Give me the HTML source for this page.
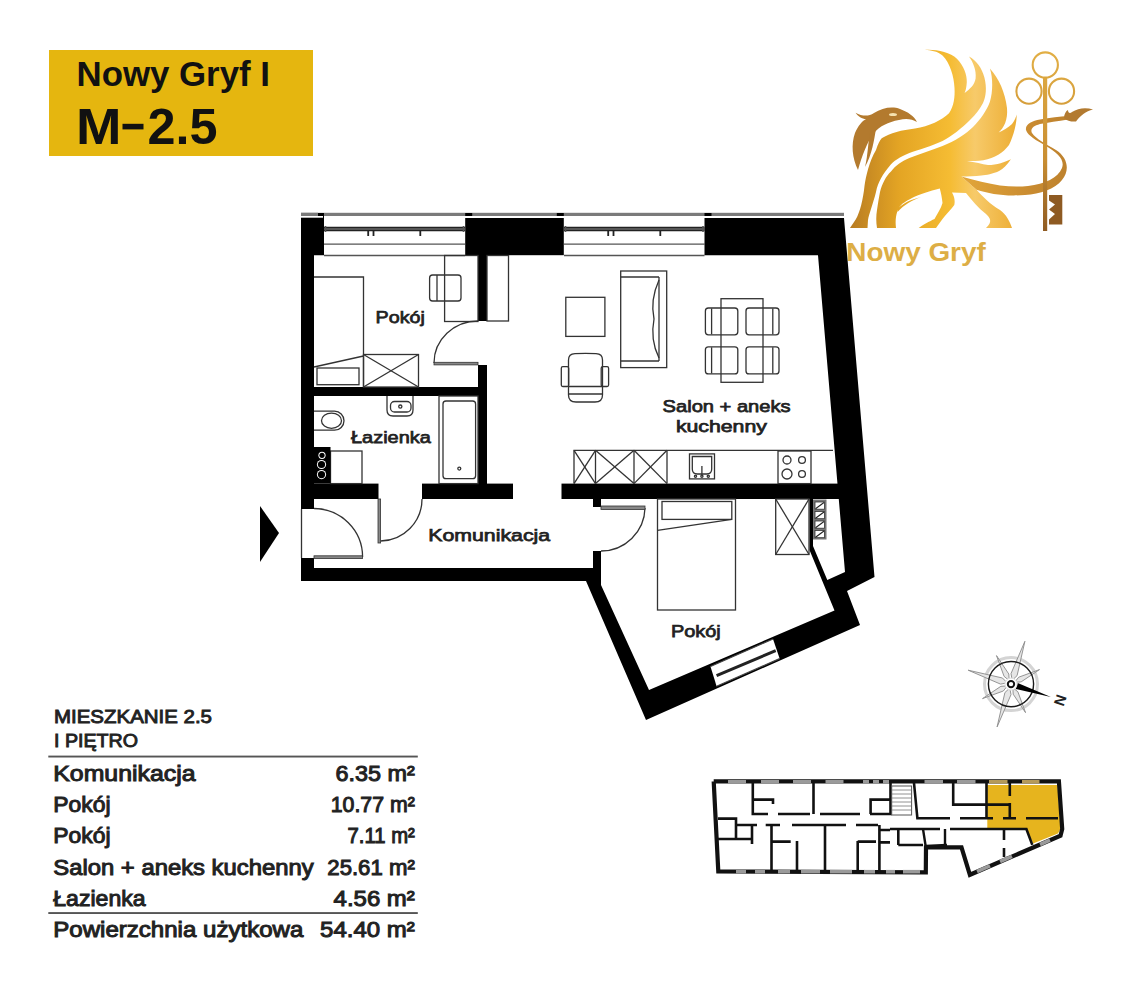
<!DOCTYPE html>
<html><head><meta charset="utf-8">
<style>
html,body{margin:0;padding:0;background:#fff;width:1142px;height:999px;overflow:hidden}
svg{display:block;font-family:"Liberation Sans",sans-serif}
</style></head><body>
<svg width="1142" height="999" viewBox="0 0 1142 999">
<!-- header -->
<rect x="49" y="50" width="264" height="106" fill="#E5B60F"/>
<text x="76.5" y="86.2" font-size="34.5" font-weight="bold" fill="#111" textLength="193.5" lengthAdjust="spacingAndGlyphs">Nowy Gryf I</text>
<text x="76" y="143.8" font-size="50" font-weight="bold" fill="#111" textLength="45.5" lengthAdjust="spacingAndGlyphs">M</text>
<rect x="122.5" y="123.8" width="21" height="5.6" fill="#111"/>
<text x="147.5" y="143.8" font-size="50" font-weight="bold" fill="#111" textLength="70" lengthAdjust="spacingAndGlyphs">2.5</text>

<!-- FLOOR PLAN -->
<g id="plan">
<!-- top strip -->
<rect x="301" y="212.8" width="543" height="3.2" fill="#7a7a7a"/>
<!-- windows -->
<g id="win1" stroke="#222" fill="none">
 <line x1="324" y1="229" x2="465" y2="229" stroke-width="4.6"/>
 <line x1="324" y1="229" x2="465" y2="229" stroke-width="0.9" stroke="#999"/>
 <line x1="324" y1="244.2" x2="465" y2="244.2" stroke-width="1.3" stroke="#555"/>
 <line x1="324" y1="255.5" x2="465" y2="255.5" stroke-width="1.3" stroke="#555"/>
</g>
<g id="win2" stroke="#222" fill="none">
 <line x1="564" y1="229" x2="704.5" y2="229" stroke-width="4.6"/>
 <line x1="564" y1="229" x2="704.5" y2="229" stroke-width="0.9" stroke="#999"/>
 <line x1="564" y1="244.2" x2="704.5" y2="244.2" stroke-width="1.3" stroke="#555"/>
 <line x1="564" y1="255.5" x2="704.5" y2="255.5" stroke-width="1.3" stroke="#555"/>
</g>
<g id="hooks"><rect x="367.3" y="230.5" width="1.8" height="5.5" fill="#222"/><rect x="372.6" y="230.5" width="1.8" height="5.5" fill="#222"/><rect x="419.40000000000003" y="230.5" width="1.8" height="5.5" fill="#222"/><rect x="607.3000000000001" y="230.5" width="1.8" height="5.5" fill="#222"/><rect x="612.6" y="230.5" width="1.8" height="5.5" fill="#222"/><rect x="659.4" y="230.5" width="1.8" height="5.5" fill="#222"/><rect x="324.7" y="226" width="1.6" height="6" fill="#555"/><rect x="462.7" y="226" width="1.6" height="6" fill="#555"/><rect x="564.7" y="226" width="1.6" height="6" fill="#555"/><rect x="702.2" y="226" width="1.6" height="6" fill="#555"/></g>
<!-- walls -->
<g fill="#000">
 <polygon points="301,213 324,213 324,255.3 314,255.3 314,509 301,509"/>
 <rect x="301" y="558" width="13" height="23"/>
 <rect x="301" y="568" width="300" height="13"/>
 <rect x="465.2" y="218" width="98.6" height="37.2"/>
 <rect x="465.2" y="213" width="7" height="3"/>
 <rect x="556.8" y="213" width="7" height="3"/>
 <polygon points="704.5,218 844,218 874.5,577 847,591 860,625 646,720 586,581 586,575 601,575 601,585 649,690 834.5,610.5 809.5,550 809.5,499 813,499 813,546 827.3,580 845,572 818,255.2 704.5,255.2"/>
 <rect x="704.5" y="213" width="7" height="3"/>
 <!-- interior walls -->
 <rect x="314" y="387" width="173" height="9"/>
 <rect x="478" y="255" width="9" height="66"/>
 <rect x="478" y="365" width="9" height="119"/>
 <rect x="314" y="483.6" width="64.5" height="15.4"/>
 <rect x="422" y="483.6" width="91" height="15.4"/>
 <rect x="561.5" y="483.6" width="280" height="15.4"/>
 <rect x="593" y="499" width="8" height="8"/>
 <rect x="593" y="551" width="8" height="30"/>
</g>
<rect x="301" y="212.8" width="17" height="3.2" fill="#7a7a7a"/>
<rect x="301" y="216" width="22" height="1.7" fill="#fff"/>
<rect x="472.2" y="216" width="84.6" height="1.8" fill="#fff"/>
<rect x="711.5" y="216" width="132" height="1.8" fill="#fff"/>
<!-- window 3 in slanted wall -->
<polygon points="710.5,666.5 773,639 779.6,658.6 716.6,686.2" fill="#fff"/>
<line x1="716.6" y1="675.7" x2="775.7" y2="650.7" stroke="#222" stroke-width="3"/>
<line x1="710.5" y1="666.5" x2="773" y2="639" stroke="#444" stroke-width="1.2"/>
<line x1="716.6" y1="686.2" x2="779.6" y2="658.6" stroke="#444" stroke-width="1.2"/>

<!-- furniture -->
<g fill="none" stroke="#333" stroke-width="1.3">
 <!-- pokoj1 bed -->
 <polyline points="314,277 363.5,277 363.5,387"/>
 <rect x="317" y="368" width="42" height="16.7"/>
 <line x1="314" y1="367" x2="363.5" y2="356"/>
 <rect x="363.5" y="354.5" width="55" height="32.5"/>
 <line x1="363.5" y1="354.5" x2="418.5" y2="387"/>
 <line x1="418.5" y1="354.5" x2="363.5" y2="387"/>
 <rect x="444.6" y="255.5" width="33.4" height="66"/>
 <rect x="429.6" y="275" width="31.4" height="26" rx="3"/>
 <line x1="437" y1="275" x2="437" y2="301"/>
 <rect x="487" y="255.5" width="21.5" height="65.5"/>
 <!-- door 1 -->
 <path d="M434,363 A44,42 0 0 1 478,321"/>
 <!-- living -->
 <rect x="565.8" y="297.3" width="39.1" height="39.1"/>
 <rect x="620.7" y="271" width="46" height="96.6"/>
 <line x1="620.7" y1="277" x2="659" y2="277"/>
 <line x1="620.7" y1="361" x2="659" y2="361"/>
 <line x1="659" y1="277" x2="659" y2="361"/>
 <path d="M659,280 Q650,300 654,319 Q650,340 659,358"/>
 <path d="M568.5,386.5 V360 Q568.5,353.8 575,353.6 Q585.5,353.2 596,353.6 Q602.5,353.8 602.5,360 V386.5"/>
 <rect x="561.3" y="366.7" width="7.4" height="19.8" rx="1.5"/>
 <rect x="601.2" y="366.7" width="7.4" height="19.8" rx="1.5"/>
 <line x1="568.5" y1="386.5" x2="602.5" y2="386.5"/>
 <line x1="568.5" y1="394" x2="602.5" y2="394"/>
 <path d="M568.5,386.5 V395 Q568.5,402 576,402 H595 Q602.5,402 602.5,395 V386.5"/>
 <rect x="721" y="298.7" width="42" height="83.6"/>
 <rect x="705.4" y="308" width="32.4" height="26.8" rx="3"/>
 <rect x="746" y="308" width="33" height="26.8" rx="3"/>
 <rect x="705.4" y="346.8" width="32.4" height="27.1" rx="3"/>
 <rect x="746" y="346.8" width="33" height="27.1" rx="3"/>
 <line x1="711.6" y1="308.5" x2="711.6" y2="334.3"/><line x1="711.6" y1="347.3" x2="711.6" y2="373.4"/>
 <line x1="772.8" y1="308.5" x2="772.8" y2="334.3"/><line x1="772.8" y1="347.3" x2="772.8" y2="373.4"/>
 <!-- kitchen -->
 <polyline points="574,483.6 574,450.3 833,450.3"/>
 <line x1="595.5" y1="450.3" x2="595.5" y2="483.6"/>
 <line x1="634" y1="450.3" x2="634" y2="483.6"/>
 <line x1="667" y1="450.3" x2="667" y2="483.6"/>
 <line x1="574" y1="450.3" x2="595.5" y2="483.6"/><line x1="595.5" y1="450.3" x2="574" y2="483.6"/>
 <line x1="595.5" y1="450.3" x2="634" y2="483.6"/><line x1="634" y1="450.3" x2="595.5" y2="483.6"/>
 <line x1="634" y1="450.3" x2="667" y2="483.6"/><line x1="667" y1="450.3" x2="634" y2="483.6"/>
 <rect x="689.5" y="453.9" width="25" height="25"/>
 <path d="M692.3,456.5 H711.7 V469 Q711.7,474 706.7,474 H697.3 Q692.3,474 692.3,469 Z"/>
 <circle cx="695.5" cy="476.2" r="1.1"/><circle cx="701.9" cy="476.2" r="1.1"/><circle cx="708.3" cy="476.2" r="1.1"/>
 <line x1="701.9" y1="466" x2="701.9" y2="475"/>
 <rect x="778" y="451" width="33" height="32.6"/>
 <circle cx="787" cy="460" r="4"/><circle cx="802" cy="460" r="3.4"/>
 <circle cx="787" cy="474" r="5"/><circle cx="802" cy="474" r="3.4"/>
 <!-- bathroom -->
 <rect x="439" y="396" width="39" height="87.6"/>
 <rect x="443" y="401" width="32.6" height="77.7" rx="3"/>
 <path d="M387,396 L387,410 Q387,416 393,416 L407,416 Q413,416 413,410 L413,396"/>
 <path d="M314,411.2 H334.5 A9.5,9.5 0 0 1 334.5,430.2 H314"/>
 <ellipse cx="331.5" cy="420.7" rx="10" ry="7.6"/>
 <rect x="390.5" y="401.5" width="20.5" height="10.5" rx="4"/>
 <circle cx="400.3" cy="406.6" r="1.6"/>
 <circle cx="459.3" cy="468.6" r="1.5"/>
 <rect x="330.5" y="451" width="31.5" height="32.6"/>
 <!-- doors -->
 <path d="M380.6,541 A42,42 0 0 0 422,499"/>
 <path d="M314,508.5 A48.6,48.6 0 0 1 362.6,557"/>
 <line x1="301.5" y1="509" x2="301.5" y2="558"/>
 <path d="M645,508 A44,44 0 0 1 601,551"/>
 <!-- pokoj 2 -->
 <rect x="657.5" y="499" width="78" height="111"/>
 <rect x="662" y="501.5" width="69.8" height="17.9"/>
 <line x1="657.5" y1="530.4" x2="731.8" y2="519.4"/>
 <rect x="775.7" y="499" width="33.3" height="55.5"/>
 <line x1="775.7" y1="499" x2="809" y2="554.5"/><line x1="809" y1="499" x2="775.7" y2="554.5"/>
</g>
<!-- door leaves -->
<g fill="#888" stroke="#333" stroke-width="0.8">
 <rect x="434" y="362.3" width="44" height="2.6"/>
 <rect x="314" y="555.8" width="48.6" height="2.8"/>
 <rect x="601" y="506" width="44" height="3.5"/>
 <rect x="378" y="499" width="2.6" height="44"/>
</g>
<!-- washing/boiler -->
<rect x="314" y="447" width="16.5" height="36.6" fill="#000"/>
<circle cx="322" cy="455.3" r="3.6" fill="#fff"/><circle cx="322" cy="455.3" r="2.6" fill="#000"/>
<circle cx="321.5" cy="464.5" r="4.6" fill="#fff"/><circle cx="321.5" cy="464.5" r="3.6" fill="#000"/>
<circle cx="321.5" cy="474.6" r="4.6" fill="#fff"/><circle cx="321.5" cy="474.6" r="3.6" fill="#000"/>
<!-- vents -->
<rect x="813" y="499.5" width="13.5" height="40" fill="#777"/>
<g fill="#fff" stroke="#333" stroke-width="0.8">
 <rect x="815" y="502" width="9.5" height="7.2"/>
 <rect x="815" y="511.5" width="9.5" height="7.2"/>
 <rect x="815" y="521" width="9.5" height="7.2"/>
 <rect x="815" y="530.5" width="9.5" height="7.2"/>
</g>
<g stroke="#222" stroke-width="1.1">
 <line x1="815.5" y1="508.7" x2="824" y2="502.5"/>
 <line x1="815.5" y1="518.2" x2="824" y2="512"/>
 <line x1="815.5" y1="527.7" x2="824" y2="521.5"/>
 <line x1="815.5" y1="537.2" x2="824" y2="531"/>
</g>

<!-- labels -->
<g font-weight="normal" fill="#222" stroke="#222" stroke-width="0.75" font-size="17.3">
 <text x="375.6" y="323.4" textLength="49.2" lengthAdjust="spacingAndGlyphs">Pokój</text>
 <text x="351" y="442.8" textLength="79.8" lengthAdjust="spacingAndGlyphs">Łazienka</text>
 <text x="428.3" y="541.4" textLength="121.8" lengthAdjust="spacingAndGlyphs">Komunikacja</text>
 <text x="662.6" y="412.4" textLength="128" lengthAdjust="spacingAndGlyphs">Salon + aneks</text>
 <text x="675.9" y="431.8" textLength="91" lengthAdjust="spacingAndGlyphs">kuchenny</text>
 <text x="671" y="636.8" textLength="49.8" lengthAdjust="spacingAndGlyphs">Pokój</text>
</g>
<!-- entry arrow -->
<polygon points="260,506 279,533 260,562" fill="#000"/>
</g>

<!-- TABLE -->
<g font-weight="bold" fill="#222">
 <text x="54" y="722.9" font-size="18.5" font-weight="normal" stroke="#222" stroke-width="0.9" textLength="158" lengthAdjust="spacingAndGlyphs">MIESZKANIE 2.5</text>
 <text x="54" y="747.3" font-size="18.5" font-weight="normal" stroke="#222" stroke-width="0.9" textLength="84" lengthAdjust="spacingAndGlyphs">I PIĘTRO</text>
 <rect x="48.3" y="755.6" width="369.5" height="1.9" fill="#555"/>
 <rect x="48.3" y="912.1" width="369.5" height="1.9" fill="#555"/>
 <g font-size="22" font-weight="normal" stroke="#222" stroke-width="1.0">
 <text x="53.3" y="780.8" textLength="142.2" lengthAdjust="spacingAndGlyphs">Komunikacja</text>
 <text x="53.3" y="812" textLength="57.3" lengthAdjust="spacingAndGlyphs">Pokój</text>
 <text x="53.3" y="843" textLength="57.3" lengthAdjust="spacingAndGlyphs">Pokój</text>
 <text x="53.3" y="874.5" textLength="260.3" lengthAdjust="spacingAndGlyphs">Salon + aneks kuchenny</text>
 <text x="53.3" y="905.7" textLength="92.3" lengthAdjust="spacingAndGlyphs">Łazienka</text>
 <text x="53.3" y="937.1" textLength="250" lengthAdjust="spacingAndGlyphs">Powierzchnia użytkowa</text>
 <text x="335.5" y="780.8" textLength="79.3" lengthAdjust="spacingAndGlyphs">6.35 m²</text>
 <text x="330.7" y="812" textLength="84.1" lengthAdjust="spacingAndGlyphs">10.77 m²</text>
 <text x="347.5" y="843" textLength="67.3" lengthAdjust="spacingAndGlyphs">7.11 m²</text>
 <text x="327.3" y="874.5" textLength="87.5" lengthAdjust="spacingAndGlyphs">25.61 m²</text>
 <text x="333.6" y="905.7" textLength="81.2" lengthAdjust="spacingAndGlyphs">4.56 m²</text>
 <text x="320.1" y="937.1" textLength="94.7" lengthAdjust="spacingAndGlyphs">54.40 m²</text>
 </g>
</g>

<!-- LOGO placeholder -->
<g id="logo">
<defs>
 <linearGradient id="gold" x1="845" y1="0" x2="1095" y2="0" gradientUnits="userSpaceOnUse">
  <stop offset="0" stop-color="#B47822"/>
  <stop offset="0.22" stop-color="#E4A524"/>
  <stop offset="0.42" stop-color="#F5BC33"/>
  <stop offset="0.52" stop-color="#F7CA6A"/>
  <stop offset="0.68" stop-color="#EDAE35"/>
  <stop offset="0.85" stop-color="#D0922E"/>
  <stop offset="1" stop-color="#A86E28"/>
 </linearGradient>
 <linearGradient id="keyg" x1="0" y1="50" x2="0" y2="232" gradientUnits="userSpaceOnUse">
  <stop offset="0" stop-color="#E2AF45"/>
  <stop offset="0.6" stop-color="#C98E32"/>
  <stop offset="1" stop-color="#8E5A22"/>
 </linearGradient>
</defs>
<!-- silhouette -->
<path fill="url(#gold)" d="M924.9,49.9 C935,49 950,52 956.9,58.7 C964,66 967,75 966.8,82 C966.5,88 965.5,91 964.6,93
 C970,89 974.5,85 975.6,78.5 C976.5,70 973,62 969,56.5 C976,60 982,68 984.4,77.4 C987,88 986,96 983,103
 C980,109 976,114 970,120 C962,128 952,136 942.5,141 C932,146 918,150 909.4,153 C900,157 893,161 889.6,166 C883,174 878,182 876,192 C873,204 869,214 868,220 L867.5,228
 L850,228 C852,225 854,222 856,219 C860,212 863,200 864.5,186 C866,176 869,162 876,150 C878,144 880,140 881.7,138.3
 C890,133 902,130 915,128.5 C929,126.4 942,120 949,113.2 C954,106 955,97 954.5,88 C954,76 950,63 942.5,55.4 C937,51 931,50 924.9,49.9 Z"/>
<path fill="url(#gold)" d="M989.9,68.6 C999,79 1005,92 1007,108 C1008,120 1004,128 998,133 C990,137 984,138 977.6,138.5
 C990,137 1005,131 1012,124 C1015,120 1016,117 1016.6,114.5
 C1017,122 1014,135 1009,145 C1003,153 995,158 983.3,160.2 C978,161 972,161 967,161.1
 C975,162 982,164.5 988,165 C997,165 1005,162 1010.9,159.2
 C1007,165 1003,169 999.5,170.7 C993,174 986,175 981.4,175.4 C975,176 968,176.4 961.4,176.4
 L976.6,189.7 C982,196 990,204 1000,210 C1006,214 1010,222 1012,228 L986,228
 C990,224 993,220 986,214 C978,208 972,200 966,193 L952,192.5 C955,198 955,202 954.3,205 C951,210 946,214 942.5,219 L936,228 L918.7,228
 C922,225 930,221 934.5,218.9 C937,214 941,209 942.5,203 C942,198 941,193 939.8,188.5 C930,191 918,195 912,198
 C906,201 901,204 899,208 C896,213 895,220 896,228 L877,228 C876,222 876,216 877,210 C878,203 879,197 880,192
 C882,184 886,176 891,171.5 C896,165 902,161 909.4,158 C920,154 932,150 942.5,146 C955,141 966,134 973,127 C980,120 987,110 989.9,101.7 C993,92 993,78 989.9,68.6 Z"/>
<path fill="url(#gold)" d="M921,197.3 C912,199 904,203 898,208 L897.5,212 C904,205 912,200 921,197.3 Z"/>
<!-- head + mane -->
<path fill="#B37A2E" d="M855.5,112.7 C862,116 868,117 874,113 C882,108 892,106 900,109 C908,112 914,116 917,122
 C912,119 906,118 899,120 C888,122 880,126 874,133 C867,142 862,156 858,170
 C852,158 851,144 855,133 C858,126 862,121 866,119 C862,119 858,116 855.5,112.7 Z"/>
<path fill="#B37A2E" d="M876,129 C874,140 872,155 865,167 C868,155 868,142 870,133 Z"/>
<ellipse cx="893" cy="114.5" rx="4" ry="1.6" fill="#F6E2B0"/>
<!-- tail -->
<defs>
 <linearGradient id="tailg" x1="968" y1="0" x2="1095" y2="0" gradientUnits="userSpaceOnUse">
  <stop offset="0" stop-color="#E0A43A"/>
  <stop offset="0.5" stop-color="#C98B30"/>
  <stop offset="1" stop-color="#B47A2C"/>
 </linearGradient>
</defs>
<path fill="url(#tailg)" d="M961.4,176.4 C975,180 988,183.5 1000,185.5 C1010,186.8 1020,186.8 1028,186 C1045,184 1058,178 1062,168 C1065,160 1058,153 1046,146 C1036,140 1028,136 1026,130 C1025,124 1032,121 1040,119.5 C1050,117.5 1060,116.5 1068,116
 L1068,119.5 C1058,121 1048,122.5 1040,124 C1033,126 1030,129 1032,133 C1036,139 1046,144 1056,150 C1068,158 1070,170 1062,180 C1055,189 1040,194 1025,195 C1005,196.5 990,194 976.6,189.7 Z"/>
<path fill="#B27A30" d="M1064,118 C1064,114 1066,111 1068,110 C1068,113 1070,114 1072,112 C1078,108 1086,107 1093,109.5 C1086,111 1080,116 1076,121.5 C1072,122 1067,121 1064,118 Z"/>
<!-- key -->
<g fill="none" stroke="url(#keyg)" stroke-width="2.1">
 <circle cx="1045.3" cy="65" r="12.6"/>
 <circle cx="1029" cy="91.2" r="12.6"/>
 <circle cx="1061.5" cy="91.2" r="12.6"/>
</g>
<rect x="1043" y="77" width="4.2" height="154" fill="url(#keyg)"/>
<path fill="#8E5A22" d="M1049,195 H1062.3 V224.5 H1049 V219.5 L1055,214 L1049,209.5 L1055,204.5 L1049,200.5 Z"/>
<text x="846.3" y="260.6" font-size="26" font-weight="bold" fill="#DDAE45" textLength="139.4" lengthAdjust="spacingAndGlyphs">Nowy Gryf</text>
</g>
<!-- COMPASS placeholder -->
<g id="compass"><circle cx="1011" cy="684.1" r="26.5" fill="none" stroke="#d4d4d4" stroke-width="3"/>
<polygon points="1012.8,687.7 1013.2,694.2 1025.5,712.6 1017.9,691.8" fill="#e6e6e6" stroke="#8a8a8a" stroke-width="0.9"/>
<polygon points="1009.8,687.9 1004.9,692.6 997.1,726.9 1011.0,694.6" fill="#e6e6e6" stroke="#8a8a8a" stroke-width="0.9"/>
<polygon points="1007.4,685.9 1000.9,686.3 982.5,698.6 1003.3,691.0" fill="#e6e6e6" stroke="#8a8a8a" stroke-width="0.9"/>
<polygon points="1007.2,682.9 1002.5,678.0 968.2,670.2 1000.5,684.1" fill="#e6e6e6" stroke="#8a8a8a" stroke-width="0.9"/>
<polygon points="1009.2,680.5 1008.8,674.0 996.5,655.6 1004.1,676.4" fill="#e6e6e6" stroke="#8a8a8a" stroke-width="0.9"/>
<polygon points="1012.2,680.3 1017.1,675.6 1024.9,641.3 1011.0,673.6" fill="#e6e6e6" stroke="#8a8a8a" stroke-width="0.9"/>
<polygon points="1014.6,682.3 1021.1,681.9 1039.5,669.6 1018.7,677.2" fill="#e6e6e6" stroke="#8a8a8a" stroke-width="0.9"/>
<circle cx="1011" cy="684.1" r="22.6" fill="none" stroke="#1a1a1a" stroke-width="1.4"/>
<polygon points="1015.7,689.0 1050.9,697.1 1017.7,682.9" fill="#000"/>
<circle cx="1011" cy="684.1" r="6" fill="#fff" stroke="#e0e0e0" stroke-width="1"/>
<circle cx="1011" cy="684.1" r="3.2" fill="none" stroke="#111" stroke-width="2"/>
<text x="0" y="0" font-size="15" font-family="Liberation Sans" font-weight="bold" fill="#222" transform="translate(1059,700) rotate(108)" text-anchor="middle" dominant-baseline="middle">N</text></g>
<!-- MINI PLAN placeholder -->
<g id="mini">
<polygon points="987.3,785 1057.5,785 1060.5,829 1058,833.5 1033,843.5 1026.4,828.5 987.3,828.5" fill="#E6B41E"/>
<!-- outer -->
<polyline points="713.7,781.3 1058.9,781.3 1062.2,829 1060.5,835.7 969.9,874.8 961.5,847.4 926,847.4 925.8,872.3 718.3,871.5 713.7,781.3" fill="none" stroke="#111" stroke-width="4.2" stroke-linejoin="miter"/>
<g stroke="#9a9a9a" stroke-width="3.6">
 <line x1="728" y1="781.8" x2="746" y2="781.8"/>
 <line x1="761" y1="781.8" x2="779" y2="781.8"/>
 <line x1="793" y1="781.8" x2="811" y2="781.8"/>
 <line x1="825.5" y1="781.8" x2="843.5" y2="781.8"/>
 <line x1="863" y1="781.8" x2="869" y2="781.8"/>
 <line x1="873" y1="781.8" x2="879" y2="781.8"/>
 <line x1="883" y1="781.8" x2="889" y2="781.8"/>
 <line x1="924.5" y1="781.8" x2="943" y2="781.8"/>
 <line x1="957" y1="781.8" x2="975.5" y2="781.8"/>
 <line x1="989" y1="781.8" x2="1007.5" y2="781.8" stroke="#b59a5a"/>
 <line x1="1022" y1="781.8" x2="1039.5" y2="781.8" stroke="#b59a5a"/>
 <line x1="736" y1="871.7" x2="746" y2="871.7"/>
 <line x1="755" y1="871.7" x2="765" y2="871.7"/>
 <line x1="778" y1="871.7" x2="790" y2="871.7"/>
 <line x1="801" y1="871.7" x2="820" y2="871.7"/>
 <line x1="830" y1="871.7" x2="852" y2="871.7"/>
 <line x1="864" y1="871.7" x2="875" y2="871.7"/>
 <line x1="886" y1="871.7" x2="895" y2="871.7"/>
 <line x1="903" y1="871.7" x2="920" y2="871.7"/>
 <line x1="977" y1="871.5" x2="990" y2="865.8"/>
 <line x1="1000" y1="861.5" x2="1012" y2="856.3"/>
 <line x1="1040" y1="844.5" x2="1050" y2="840.2"/>
</g>
<g stroke="#111" stroke-width="2.6" fill="none">
 <path d="M752.8,783 V814 H768 M778,814 H810 M820,814 H860 M870,814 H890.5 V783"/>
 <path d="M813.5,783 V814"/>
 <path d="M752.8,799.6 H773 V804 M870.6,814 V799.6 H890.5"/>
 <rect x="891.7" y="786" width="19.9" height="29" stroke-width="1" stroke="#555"/>
 <path d="M892,790 H911 M892,794 H911 M892,798 H911 M892,802 H911 M892,806 H911 M892,810 H911" stroke-width="0.8" stroke="#777"/>
 <path d="M914,783 L917.4,818.3 H950 M960,818.3 H993 M1003,818.3 H1016 M1026,818.3 H1058"/>
 <path d="M953.2,783 V804.6 H1009.8 M986.5,783 V818 M1009.8,783 V796 M1009.8,803 V818"/>
 <path d="M736,825 H757 M765.7,825 H780 M792,825 H846 M856,825 H878 M890,829 H940 M950,829 H1026.4 L1032.3,844.9"/>
 <path d="M718,818.6 H736 V839 M718,839 H752 M752,825 V844"/>
 <path d="M771.5,825 V871 M771.5,841.6 H790.7 M797,841 V871 M825,825 V871 M857.7,841 V871 M857.7,841.6 H876 M879.4,825 V871 M880,830 H890 M880,842.4 H890"/>
 <path d="M1004,829 V840 M1004,848 V857"/>
 <path d="M923,829 L925.8,847 M945,829 V846 M926,846 L947,845" stroke-width="2.4"/>
 <path d="M898.3,829 V845 M898.3,845 H923"/>
</g>
</g>
</svg>
</body></html>
